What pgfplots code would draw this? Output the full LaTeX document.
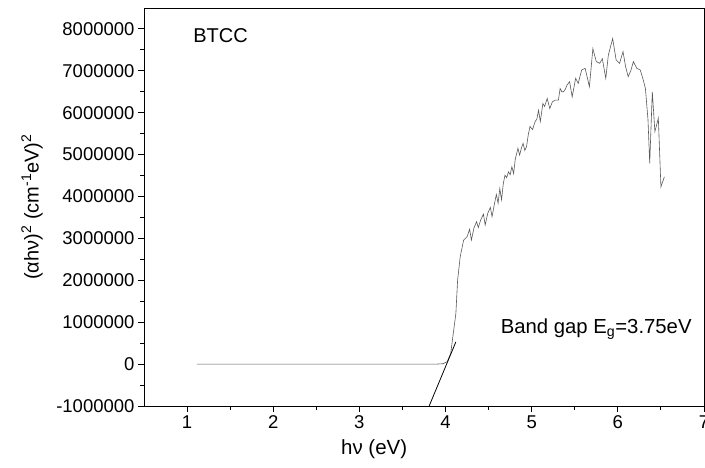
\documentclass[border=0pt]{standalone}
\usepackage{fontspec}
\setmainfont{Liberation Sans}
\usepackage{pgfplots}
\pgfplotsset{compat=1.18}
\begin{document}
\begin{tikzpicture}
\begin{axis}[
  scale only axis, width=560bp, height=398bp,
  xmin=0.5, xmax=7, ymin=-1000000, ymax=8500000,
  xtick={1,2,3,4,5,6,7}, minor x tick num=1,
  ytick={-1000000,0,1000000,2000000,3000000,4000000,5000000,6000000,7000000,8000000},
  minor y tick num=1,
  tick align=outside, xtick pos=bottom, ytick pos=left,
  major tick length=6bp, minor tick length=4bp,
  scaled y ticks=false,
  /pgf/number format/assume math mode=true,
  yticklabel style={/pgf/number format/fixed, /pgf/number format/1000 sep={}},
  tick label style={font=\fontsize{18.5bp}{22bp}\selectfont},
  axis line style={line width=0.9bp},
  tick style={line width=0.9bp, black},
  xlabel={hν (eV)},
  xlabel style={font=\fontsize{20.5bp}{24bp}\selectfont, at={(axis description cs:0.411,0)}, anchor=north, yshift=-30bp},
  ylabel={(αhν)\textsuperscript{2} (cm\textsuperscript{-1}eV)\textsuperscript{2}},
  ylabel style={font=\fontsize{20bp}{24bp}\selectfont, at={(axis description cs:-0.2,0.5)}, anchor=center},
  clip=true,
]
\addplot[color=black!65, line width=0.6bp] coordinates {
(1.115,0) (2.0,0) (3.0,0) (3.9,0) (3.97,10000) (4.02,60000) (4.06,250000)
(4.09,735000) (4.12,1210000) (4.14,2000000) (4.17,2560000) (4.21,2960000)
(4.25,3040000) (4.28,3220000) (4.30,2960000) (4.33,3250000) (4.36,3400000)
(4.38,3260000) (4.41,3450000) (4.44,3580000) (4.46,3320000) (4.49,3600000)
(4.52,3740000) (4.54,3520000) (4.57,3850000) (4.59,4050000) (4.61,3840000)
(4.63,4190000) (4.65,3920000) (4.67,4300000) (4.69,4510000) (4.71,4450000)
(4.73,4590000) (4.75,4520000) (4.77,4710000) (4.79,4550000) (4.81,4900000)
(4.84,5150000) (4.86,4990000) (4.88,5150000) (4.90,5270000) (4.92,5100000)
(4.94,5190000) (4.96,5470000) (4.98,5670000) (5.01,5600000) (5.04,5790000)
(5.06,5850000) (5.08,6060000) (5.10,5790000) (5.13,6220000) (5.15,6150000)
(5.18,6340000) (5.21,6100000) (5.24,6260000) (5.27,6300000) (5.31,6300000)
(5.33,6580000) (5.35,6500000) (5.37,6500000) (5.39,6560000) (5.41,6660000)
(5.44,6740000) (5.47,6380000) (5.51,6820000) (5.54,6700000) (5.58,7020000)
(5.62,7060000) (5.65,6800000) (5.67,6620000) (5.71,7530000) (5.75,7220000)
(5.79,7180000) (5.82,7290000) (5.86,6820000) (5.89,7380000) (5.94,7770000)
(5.98,7260000) (6.02,7180000) (6.06,7460000) (6.09,7100000) (6.12,6860000)
(6.15,7000000) (6.18,7220000) (6.22,7060000) (6.26,7020000) (6.29,6820000)
(6.32,6580000) (6.35,5830000) (6.37,4790000) (6.40,6500000) (6.43,5550000)
(6.47,5870000) (6.50,4230000) (6.54,4470000)
};
\addplot[color=black, line width=0.8bp] coordinates {(3.81,-1000000) (4.12,530000)};
\node[anchor=west, font=\fontsize{20bp}{24bp}\selectfont, inner sep=0pt] at (axis cs:1.07,7830000) {BTCC};
\node[anchor=west, font=\fontsize{20.3bp}{24bp}\selectfont, inner sep=0pt] at (axis cs:4.64,840000) {Band gap E\textsubscript{g}=3.75eV};
\coordinate (SW) at (rel axis cs:0,0);
\end{axis}
\pgfresetboundingbox
\path[use as bounding box] ([xshift=-144bp,yshift=-62bp]SW) rectangle ++(705bp,468bp);
\end{tikzpicture}
\end{document}
